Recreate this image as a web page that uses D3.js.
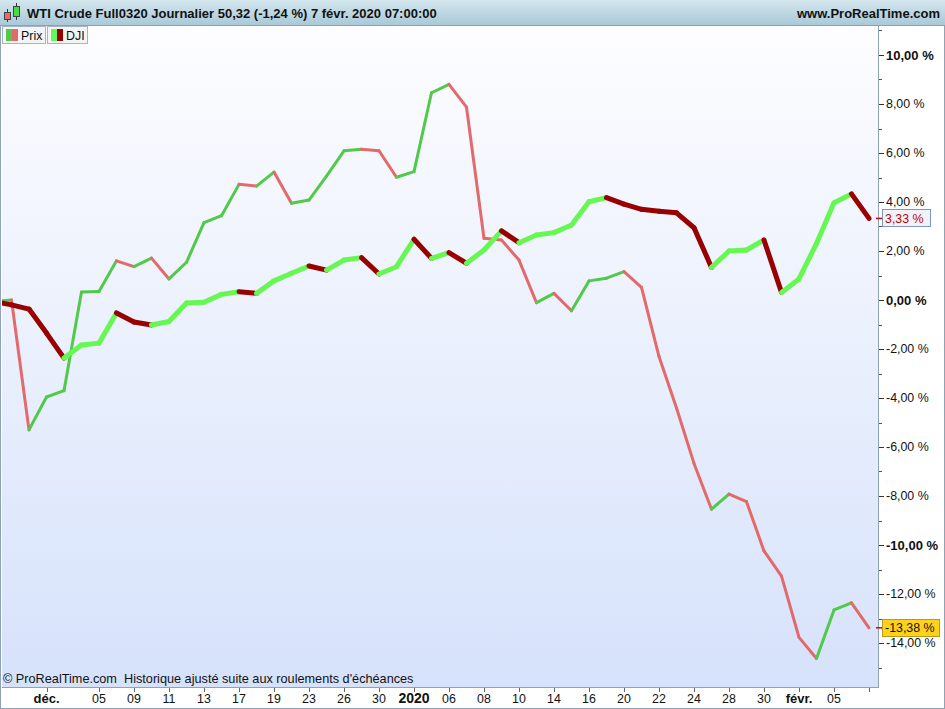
<!DOCTYPE html>
<html>
<head>
<meta charset="utf-8">
<script src="https://cdn.jsdelivr.net/npm/d3@7"></script>
<style>
  html, body { margin: 0; padding: 0; background: #ffffff; }
  svg { display: block; font-family: "Liberation Sans", Arial, sans-serif; }
</style>
</head>
<body>
<script>
// ---------- DATA ----------
// trading-day index (-1 = 26 nov. 2019 … 49 = 7 févr. 2020)
const dayIndex = d3.range(-1, 50);

// WTI Crude (Prix), % change
const prixValues = [
  -0.05, 0.00, -5.30, -3.96, -3.70, 0.33, 0.35, 1.60, 1.36, 1.71,
  0.86, 1.54, 3.16, 3.44, 4.72, 4.65, 5.22, 3.95, 4.08, 5.06,
  6.09, 6.15, 6.09, 5.01, 5.24, 8.46, 8.80, 7.87, 2.52, 2.45,
  1.63, -0.11, 0.27, -0.44, 0.78, 0.89, 1.16, 0.52, -2.31, -4.41,
  -6.67, -8.54, -7.92, -8.23, -10.24, -11.27, -13.77, -14.63, -12.65, -12.36,
  -13.38
];

// Dow Jones (DJI), % change
const djiValues = [
  -0.06, -0.20, -0.37, -1.35, -2.37, -1.84, -1.76, -0.53, -0.90, -1.02,
  -0.88, -0.12, -0.09, 0.23, 0.34, 0.27, 0.78, 1.09, 1.39, 1.22,
  1.63, 1.73, 1.06, 1.36, 2.48, 1.70, 1.93, 1.50, 2.04, 2.82,
  2.34, 2.65, 2.75, 3.06, 4.01, 4.18, 3.91, 3.70, 3.62, 3.56,
  2.95, 1.33, 2.00, 2.04, 2.45, 0.31, 0.86, 2.31, 3.97, 4.33,
  3.33
];

// x-axis labels
const xTickIndex = [2, 5, 7, 9, 11, 13, 15, 17, 19, 21, 23, 25, 27, 29, 31, 33, 35, 37, 39, 41, 43, 45, 47, 49];
const xTickLabels = ["déc.", "05", "09", "11", "13", "17", "19", "23", "26", "30", "2020", "06", "08", "10", "14", "16", "20", "22", "24", "28", "30", "févr.", "05", ""];
const xTickBold = ["déc.", "2020", "févr."];

// y-axis ticks (%)
const yMajorTicks = [10, 8, 6, 4, 2, 0, -2, -4, -6, -8, -10, -12, -14];
const yBoldTicks = [10, 0, -10];

const titleText = "WTI Crude Full0320 Journalier 50,32 (-1,24 %) 7 févr. 2020 07:00:00";
const siteText = "www.ProRealTime.com";
const footerText = "© ProRealTime.com  Historique ajusté suite aux roulements d'échéances";
const seriesNames = ["Prix", "DJI"];

// ---------- LAYOUT ----------
const W = 945, H = 709;
const plot = { left: 2, right: 878, top: 26, bottom: 687 };

const svg = d3.select("body").append("svg").attr("width", W).attr("height", H);
const defs = svg.append("defs");

const bgGrad = defs.append("linearGradient").attr("id", "bg").attr("x1", 0).attr("y1", 0).attr("x2", 0).attr("y2", 1);
bgGrad.append("stop").attr("offset", "0%").attr("stop-color", "#fdfdff");
bgGrad.append("stop").attr("offset", "100%").attr("stop-color", "#d6e2fb");

const hdGrad = defs.append("linearGradient").attr("id", "hd").attr("x1", 0).attr("y1", 0).attr("x2", 0).attr("y2", 1);
hdGrad.append("stop").attr("offset", "0%").attr("stop-color", "#d4e6ee");
hdGrad.append("stop").attr("offset", "100%").attr("stop-color", "#a9c9d8");

defs.append("clipPath").attr("id", "clip").append("rect")
  .attr("x", plot.left).attr("y", plot.top)
  .attr("width", plot.right - plot.left).attr("height", plot.bottom - plot.top);

// scales
const x = d3.scaleLinear().domain([-1, 49]).range([-6, 869]);
const y = d3.scaleLinear().domain([-14, 10]).range([643, 55]);

// plot background
svg.append("rect").attr("x", plot.left).attr("y", plot.top)
  .attr("width", plot.right - plot.left).attr("height", plot.bottom - plot.top)
  .attr("fill", "url(#bg)");

// series
function drawSeries(values, upColor, downColor, width) {
  const g = svg.append("g").attr("clip-path", "url(#clip)");
  const line = d3.line().x(d => x(d[0])).y(d => y(d[1]));
  for (let i = 0; i < values.length - 1; i++) {
    const seg = [[dayIndex[i], values[i]], [dayIndex[i + 1], values[i + 1]]];
    g.append("path")
      .attr("d", line(seg))
      .attr("fill", "none")
      .attr("stroke", values[i + 1] >= values[i] ? upColor : downColor)
      .attr("stroke-width", width)
      .attr("stroke-linecap", "round")
      .attr("stroke-linejoin", "round");
  }
}
drawSeries(prixValues, "#52c94a", "#e36a6a", 3);
drawSeries(djiValues, "#66f752", "#990000", 5);

// plot frame
svg.append("line").attr("x1", plot.right + 0.5).attr("x2", plot.right + 0.5)
  .attr("y1", plot.top).attr("y2", plot.bottom + 1).attr("stroke", "#8fa3b5");
svg.append("line").attr("x1", plot.left).attr("x2", plot.right)
  .attr("y1", plot.bottom + 0.5).attr("y2", plot.bottom + 0.5).attr("stroke", "#8fa3b5");
svg.append("line").attr("x1", 0.5).attr("x2", 0.5).attr("y1", 0).attr("y2", H).attr("stroke", "#8fa3b5");
svg.append("line").attr("x1", 0).attr("x2", W).attr("y1", H - 0.5).attr("y2", H - 0.5).attr("stroke", "#8fa3b5");
svg.append("line").attr("x1", W - 0.5).attr("x2", W - 0.5).attr("y1", 0).attr("y2", H).attr("stroke", "#8fa3b5");

// y axis (right)
const yAxisG = svg.append("g").attr("transform", `translate(${plot.right + 1},0)`);
const yMinor = d3.range(-15, 12);
yAxisG.selectAll("line.minor").data(yMinor).join("line")
  .attr("x1", 0).attr("x2", 3)
  .attr("y1", d => Math.round(y(d)) + 0.5).attr("y2", d => Math.round(y(d)) + 0.5)
  .attr("stroke", "#555");
yAxisG.selectAll("line.major").data(yMajorTicks).join("line")
  .attr("x1", 0).attr("x2", 5)
  .attr("y1", d => Math.round(y(d)) + 0.5).attr("y2", d => Math.round(y(d)) + 0.5)
  .attr("stroke", "#333");
const fmt = v => d3.format(".2f")(v).replace(".", ",").replace("−", "-") + " %";
yAxisG.selectAll("text").data(yMajorTicks).join("text")
  .attr("x", 7).attr("y", d => y(d)).attr("dy", "0.35em")
  .attr("font-size", d => yBoldTicks.includes(d) ? 13 : 12.4)
  .attr("font-weight", d => yBoldTicks.includes(d) ? "bold" : "normal")
  .attr("fill", "#111")
  .text(d => fmt(d));

// value labels on axis
function valueTag(v, fill, stroke, textColor, w) {
  const yy = y(v);
  svg.append("line").attr("x1", plot.right - 2).attr("x2", plot.right + 4)
    .attr("y1", yy).attr("y2", yy).attr("stroke", "#cc0000").attr("stroke-width", 1.5);
  svg.append("rect").attr("x", plot.right + 4.5).attr("y", Math.round(yy) - 8.5)
    .attr("width", w).attr("height", 17).attr("fill", fill).attr("stroke", stroke);
  svg.append("text").attr("x", plot.right + 7).attr("y", yy).attr("dy", "0.36em")
    .attr("font-size", 12.4).attr("fill", textColor).text(fmt(v));
}
valueTag(djiValues[djiValues.length - 1], "#eef3fb", "#7f96c2", "#c00000", 48);
valueTag(prixValues[prixValues.length - 1], "#ffd21a", "#b89a20", "#111", 57);

// x axis
const xAxisG = svg.append("g");
xAxisG.selectAll("line").data(xTickIndex).join("line")
  .attr("x1", d => Math.round(x(d)) + 0.5).attr("x2", d => Math.round(x(d)) + 0.5)
  .attr("y1", plot.bottom + 1).attr("y2", plot.bottom + 5)
  .attr("stroke", "#666");
xAxisG.selectAll("text").data(xTickIndex).join("text")
  .attr("x", d => x(d)).attr("y", 703)
  .attr("text-anchor", "middle")
  .attr("font-size", (d, i) => xTickLabels[i] === "2020" ? 14 : (xTickBold.includes(xTickLabels[i]) ? 13 : 12.4))
  .attr("font-weight", (d, i) => xTickBold.includes(xTickLabels[i]) ? "bold" : "normal")
  .attr("fill", "#111")
  .text((d, i) => xTickLabels[i]);

// footer
svg.append("text").attr("x", 3).attr("y", 683).attr("font-size", 12.7).attr("fill", "#111")
  .attr("xml:space", "preserve").style("white-space", "pre").text(footerText);

// header
svg.append("rect").attr("x", 0).attr("y", 0).attr("width", W).attr("height", 25).attr("fill", "url(#hd)");
svg.append("line").attr("x1", 0).attr("x2", W).attr("y1", 25.5).attr("y2", 25.5).attr("stroke", "#8aa3b3");
// candle icon
svg.append("line").attr("x1", 7.5).attr("x2", 7.5).attr("y1", 9).attr("y2", 22).attr("stroke", "#333");
svg.append("rect").attr("x", 4.5).attr("y", 12.5).attr("width", 6).attr("height", 7).attr("fill", "#ee6666").attr("stroke", "#444");
svg.append("line").attr("x1", 16.5).attr("x2", 16.5).attr("y1", 3).attr("y2", 20).attr("stroke", "#333");
svg.append("rect").attr("x", 13.5).attr("y", 6.5).attr("width", 6).attr("height", 10).attr("fill", "#44dd44").attr("stroke", "#444");
svg.append("text").attr("x", 27).attr("y", 18).attr("font-size", 13).attr("font-weight", "bold").attr("fill", "#111").text(titleText);
svg.append("text").attr("x", 940).attr("y", 18).attr("text-anchor", "end").attr("font-size", 13).attr("font-weight", "bold").attr("fill", "#111").text(siteText);

// legend
const legendDefs = [
  { name: seriesNames[0], x: 2, w: 43, c1: "#52c94a", c2: "#e36a6a" },
  { name: seriesNames[1], x: 47, w: 40, c1: "#66f752", c2: "#990000" }
];
legendDefs.forEach(l => {
  svg.append("rect").attr("x", l.x + 0.5).attr("y", 26.5).attr("width", l.w).attr("height", 17)
    .attr("fill", "#f2f4f6").attr("stroke", "#a8b4bf");
  svg.append("rect").attr("x", l.x + 4).attr("y", 29).attr("width", 6).attr("height", 12).attr("fill", l.c1);
  svg.append("rect").attr("x", l.x + 10).attr("y", 29).attr("width", 6).attr("height", 12).attr("fill", l.c2);
  svg.append("text").attr("x", l.x + 19).attr("y", 39.5).attr("font-size", 12.4).attr("fill", "#111").text(l.name);
});
</script>
</body>
</html>
